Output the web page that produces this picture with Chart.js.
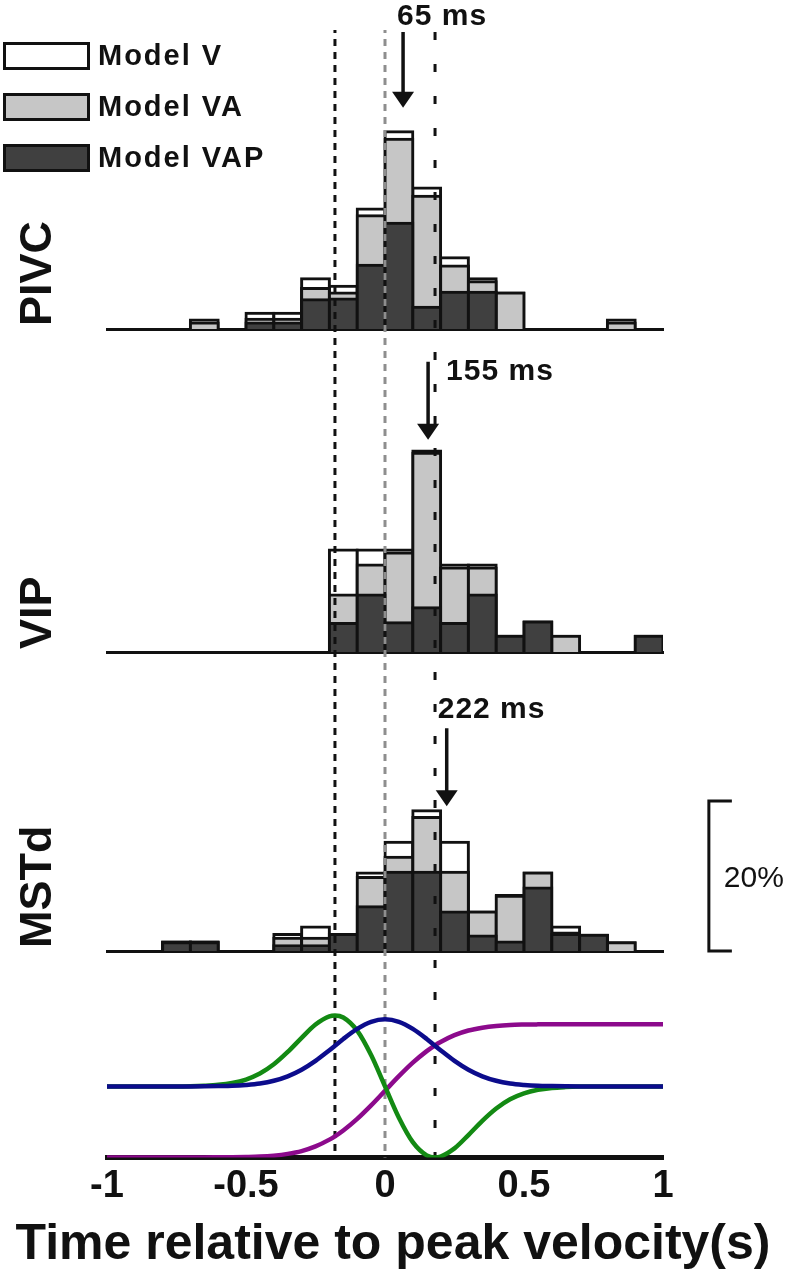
<!DOCTYPE html>
<html>
<head>
<meta charset="utf-8">
<script src="https://cdn.jsdelivr.net/npm/chart.js@4.4.0/dist/chart.umd.min.js"></script>
<style>
  body { margin: 0; background: #fff; width: 786px; height: 1280px; position: relative; overflow: hidden; }
  canvas { position: absolute; left: 0; }
</style>
</head>
<body>
<canvas id="pivc" width="786" height="340" style="top:0px"></canvas>
<canvas id="vip" width="786" height="320" style="top:340px"></canvas>
<canvas id="mstd" width="786" height="300" style="top:660px"></canvas>
<canvas id="profile" width="786" height="320" style="top:960px"></canvas>
<script>
// histogram bins (bin centres, s) and % of cells per model
const pivcBins = [-0.65, -0.45, -0.35, -0.25, -0.15, -0.05, 0.05, 0.15, 0.25, 0.35, 0.45, 0.85];
const pivcV    = [1.2, 2.1, 2.1, 6.7, 5.7, 16.0, 26.3, 18.8, 9.5, 6.7, 4.8, 1.2];
const pivcVA   = [0.8, 1.3, 1.3, 5.4, 4.8, 15.1, 25.3, 17.7, 8.4, 6.3, 4.8, 0.8];
const pivcVAP  = [0, 0.8, 0.8, 3.9, 4.0, 8.5, 14.1, 2.9, 4.9, 4.9, 0, 0];

const vipBins = [-0.15, -0.05, 0.05, 0.15, 0.25, 0.35, 0.45, 0.55, 0.65, 0.95];
const vipV    = [13.6, 13.6, 13.6, 26.8, 11.6, 11.6, 2.1, 4.0, 2.1, 2.1];
const vipVA   = [7.6, 11.6, 13.2, 26.5, 11.2, 11.2, 2.1, 4.0, 2.1, 2.1];
const vipVAP  = [3.8, 7.6, 3.9, 5.9, 3.8, 7.6, 2.1, 4.0, 0, 2.1];

const mstdBins = [-0.75, -0.65, -0.35, -0.25, -0.15, -0.05, 0.05, 0.15, 0.25, 0.35, 0.45, 0.55, 0.65, 0.75, 0.85];
const mstdV    = [1.2, 1.2, 2.2, 3.2, 2.2, 10.4, 14.5, 18.7, 14.5, 5.2, 7.4, 10.4, 3.2, 2.1, 1.1];
const mstdVA   = [1.2, 1.2, 1.7, 1.7, 2.2, 9.8, 12.5, 17.8, 10.5, 5.2, 7.3, 10.4, 2.4, 2.1, 1.1];
const mstdVAP  = [1.1, 1.1, 0.7, 0.7, 2.2, 5.9, 10.5, 10.5, 5.2, 2.0, 1.2, 8.4, 2.2, 2.1, 0];

// peak times per area and the dashed reference times
const peakTimes  = [0.065, 0.155, 0.222];
const peakLabels = ['65 ms', '155 ms', '222 ms'];
const guideTimes = [-0.18, 0, 0.18];
const tickValues = [-1, -0.5, 0, 0.5, 1];

// stimulus profiles (arbitrary units)
const profileT = [-1, -0.95, -0.9, -0.85, -0.8, -0.75, -0.7, -0.65, -0.6, -0.55, -0.5, -0.45, -0.4, -0.35, -0.3, -0.25, -0.2, -0.18,
                  -0.15, -0.1, -0.05, 0, 0.05, 0.1, 0.15, 0.18, 0.2, 0.25, 0.3, 0.35, 0.4, 0.45, 0.5, 0.55, 0.6, 0.65, 0.7,
                  0.75, 0.8, 0.85, 0.9, 0.95, 1];
const velocity = [73, 73, 73, 73, 73, 73, 73, 73.1, 73.3, 73.6, 74.5, 76.0, 78.8, 83.4, 90.2, 99.3, 110.2, 114.8,
                  121.8, 132.1, 139.4, 142, 139.4, 132.1, 121.8, 114.8, 110.2, 99.3, 90.2, 83.4, 78.8, 76.0, 74.5, 73.6,
                  73.3, 73.1, 73, 73, 73, 73, 73, 73, 73];
const acceleration = [73, 73, 73, 73, 73, 73, 73.2, 73.7, 74.6, 76.5, 80.1, 86.2, 95.7, 108.4, 123.0, 136.7, 145.1, 146,
                  143.9, 130.3, 105.2, 73, 40.8, 15.7, 2.1, 0, 0.9, 9.3, 23.0, 37.6, 50.3, 59.8, 65.9, 69.5, 71.4, 72.3,
                  72.8, 73, 73, 73, 73, 73, 73];
const position = [0, 0, 0, 0, 0, 0, 0, 0, 0.1, 0.2, 0.4, 0.8, 1.8, 3.6, 6.5, 11.3, 18.3, 21.7,
                  27.7, 39.6, 53.5, 68.5, 83.5, 97.4, 109.3, 115.3, 118.7, 125.7, 130.5, 133.4, 135.2, 136.2, 136.6,
                  136.8, 136.9, 137, 137, 137, 137, 137, 137, 137, 137];

Chart.defaults.font.family = "'Liberation Sans', Arial, sans-serif";
Chart.defaults.color = '#111';
const FONT = "'Liberation Sans', Arial, sans-serif";
const INK = '#111111';

function histSets(bins, v, va, vap) {
    const make = (label, vals, fill, order) => ({
        label: label,
        data: bins.map((t, i) => ({ x: t, y: vals[i] > 0 ? vals[i] : null })),
        backgroundColor: fill,
        borderColor: INK,
        borderWidth: 3,
        borderSkipped: 'start',
        inflateAmount: 1.5,
        grouped: false,
        barPercentage: 1,
        categoryPercentage: 1,
        order: order
    });
    return [make('Model V', v, '#ffffff', 3), make('Model VA', va, '#c6c6c6', 2), make('Model VAP', vap, '#404040', 1)];
}

function xAxis(extra) {
    return Object.assign({
        type: 'linear', min: -1, max: 1, offset: false, z: 1,
        afterBuildTicks: s => { s.ticks = tickValues.map(v => ({ value: v })); },
        grid: { display: false, drawTicks: false },
        ticks: { display: false },
        border: { display: true, color: INK, width: 3 }
    }, extra || {});
}

function histOptions(ymax, padBottom) {
    return {
        responsive: false, animation: false, events: [],
        layout: { padding: { left: 107, right: 123, top: 0, bottom: padBottom } },
        plugins: { legend: { display: false }, tooltip: { enabled: false } },
        scales: { x: xAxis(), y: { min: 0, max: ymax, display: false } }
    };
}

// dashed vertical lines, phase kept continuous down the page
function drawGuides(chart, y0, y1, pageTop) {
    const ctx = chart.ctx, xs = chart.scales.x;
    const styles = [[INK, [7, 6]], ['#8e8e8e', [7, 6]], [INK, [8, 24]]];
    ctx.save();
    ctx.lineWidth = 3;
    guideTimes.forEach((t, i) => {
        const x = xs.getPixelForValue(t);
        ctx.strokeStyle = styles[i][0];
        ctx.setLineDash(styles[i][1]);
        ctx.lineDashOffset = pageTop + y0;
        ctx.beginPath();
        ctx.moveTo(x, y0);
        ctx.lineTo(x, y1);
        ctx.stroke();
    });
    ctx.restore();
}

function drawPeak(chart, idx, topVal, tipVal, dx, dy) {
    const ctx = chart.ctx, xs = chart.scales.x, ys = chart.scales.y;
    const x = xs.getPixelForValue(peakTimes[idx]);
    const yTop = ys.getPixelForValue(topVal), yTip = ys.getPixelForValue(tipVal);
    ctx.save();
    ctx.strokeStyle = INK;
    ctx.fillStyle = INK;
    ctx.lineWidth = 3.5;
    ctx.beginPath();
    ctx.moveTo(x, yTop);
    ctx.lineTo(x, yTip - 12);
    ctx.stroke();
    ctx.beginPath();
    ctx.moveTo(x - 11, yTip - 16);
    ctx.lineTo(x + 11, yTip - 16);
    ctx.lineTo(x, yTip);
    ctx.closePath();
    ctx.fill();
    ctx.font = 'bold 30px ' + FONT;
    ctx.letterSpacing = '1px';
    ctx.textBaseline = 'alphabetic';
    ctx.fillText(peakLabels[idx], x + dx, yTop + dy);
    ctx.restore();
}

function drawName(chart, name) {
    const ctx = chart.ctx;
    ctx.save();
    ctx.translate(51, chart.chartArea.bottom - 3);
    ctx.rotate(-Math.PI / 2);
    ctx.font = 'bold 45px ' + FONT;
    ctx.fillStyle = INK;
    ctx.textAlign = 'left';
    ctx.textBaseline = 'alphabetic';
    ctx.fillText(name, 0, 0);
    ctx.restore();
}

function drawLegend(chart) {
    const ctx = chart.ctx;
    ctx.save();
    chart.data.datasets.forEach((ds, i) => {
        const y = 42 + i * 51;
        ctx.fillStyle = ds.backgroundColor;
        ctx.fillRect(3, y, 87, 28);
        ctx.strokeStyle = INK;
        ctx.lineWidth = 3;
        ctx.strokeRect(4.5, y + 1.5, 84, 25);
        ctx.fillStyle = INK;
        ctx.font = 'bold 29px ' + FONT;
        ctx.letterSpacing = '2px';
        ctx.textBaseline = 'middle';
        ctx.fillText(ds.label, 98, y + 15);
    });
    ctx.restore();
}

function drawScaleBar(chart) {
    const ctx = chart.ctx, xs = chart.scales.x, ys = chart.scales.y;
    const x0 = xs.getPixelForValue(1.165);
    const yB = ys.getPixelForValue(0), yT = ys.getPixelForValue(20);
    ctx.save();
    ctx.strokeStyle = INK;
    ctx.lineWidth = 3;
    ctx.beginPath();
    ctx.moveTo(x0 + 23, yT);
    ctx.lineTo(x0, yT);
    ctx.lineTo(x0, yB);
    ctx.lineTo(x0 + 23, yB);
    ctx.stroke();
    ctx.fillStyle = INK;
    ctx.font = '30px ' + FONT;
    ctx.textBaseline = 'middle';
    ctx.fillText('20%', x0 + 15, (yT + yB) / 2 + 3);
    ctx.restore();
}

// axis title is wider than the plot, so it is drawn across the full canvas
function drawAxisTitle(chart) {
    const ctx = chart.ctx;
    ctx.save();
    ctx.fillStyle = INK;
    ctx.font = 'bold 50px ' + FONT;
    ctx.textAlign = 'center';
    ctx.textBaseline = 'middle';
    ctx.fillText('Time relative to peak velocity(s)', chart.width / 2, chart.height - 35);
    ctx.restore();
}

new Chart(document.getElementById('pivc'), {
    type: 'bar',
    data: { datasets: histSets(pivcBins, pivcV, pivcVA, pivcVAP) },
    options: histOptions(329 / 7.5, 11),
    plugins: [{
        id: 'pivcDeco',
        afterDatasetsDraw: c => drawGuides(c, 30, 340, 0),
        afterDraw: c => { drawPeak(c, 0, 39.6, 29.5, -6, -7); drawName(c, 'PIVC'); drawLegend(c); }
    }]
});

new Chart(document.getElementById('vip'), {
    type: 'bar',
    data: { datasets: histSets(vipBins, vipV, vipVA, vipVAP) },
    options: histOptions(312 / 7.5, 8),
    plugins: [{
        id: 'vipDeco',
        afterDatasetsDraw: c => drawGuides(c, 0, 320, 340),
        afterDraw: c => { drawPeak(c, 1, 38.7, 28.3, 18, 18); drawName(c, 'VIP'); }
    }]
});

new Chart(document.getElementById('mstd'), {
    type: 'bar',
    data: { datasets: histSets(mstdBins, mstdV, mstdVA, mstdVAP) },
    options: histOptions(291 / 7.5, 9),
    plugins: [{
        id: 'mstdDeco',
        afterDatasetsDraw: c => drawGuides(c, 0, 300, 660),
        afterDraw: c => { drawPeak(c, 2, 29.7, 19.3, -9, -10); drawName(c, 'MSTd'); drawScaleBar(c); }
    }]
});

const curve = (vals, color) => ({
    data: profileT.map((t, i) => ({ x: t, y: vals[i] })),
    borderColor: color,
    borderWidth: 4.5,
    pointRadius: 0,
    fill: false,
    tension: 0.4,
    cubicInterpolationMode: 'monotone'
});

new Chart(document.getElementById('profile'), {
    type: 'line',
    data: {
        datasets: [
            curve(velocity, '#0c0c8c'),
            curve(acceleration, '#138a13'),
            curve(position, '#8c0a8c')
        ]
    },
    options: {
        responsive: false, animation: false, events: [],
        layout: { padding: { left: 107, right: 123, top: 0, bottom: 65 } },
        plugins: { legend: { display: false }, tooltip: { enabled: false } },
        scales: {
            x: xAxis({
                border: { display: true, color: INK, width: 5 },
                ticks: { display: true, padding: 6, color: INK, maxRotation: 0, autoSkip: false,
                         font: { size: 38, weight: 'bold' }, callback: v => String(v) }
            }),
            y: { min: 0, max: 203, display: false }
        }
    },
    plugins: [{
        id: 'profileDeco',
        beforeDatasetsDraw: c => drawGuides(c, 0, c.chartArea.bottom, 960),
        afterDraw: c => drawAxisTitle(c)
    }]
});
</script>
</body>
</html>
